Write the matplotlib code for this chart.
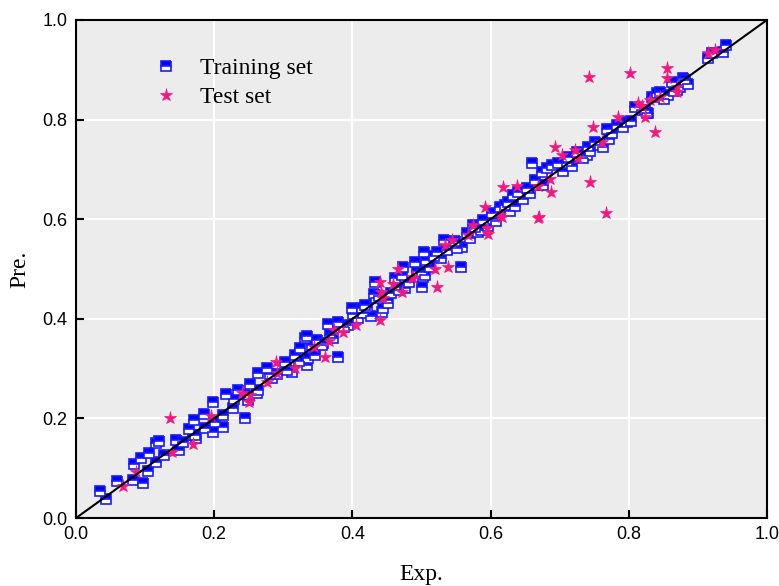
import matplotlib
matplotlib.use('Agg')
import matplotlib.pyplot as plt

# training set (Exp., Pre.)
train_exp = [0.034, 0.044, 0.059, 0.082, 0.097, 0.084, 0.094, 0.104, 0.106, 0.116,
             0.120, 0.116, 0.127, 0.149, 0.145, 0.155, 0.164, 0.171, 0.169, 0.174,
             0.172, 0.187, 0.198, 0.185, 0.198, 0.201, 0.213, 0.213, 0.217, 0.227,
             0.229, 0.234, 0.245, 0.250, 0.252, 0.262, 0.264, 0.276, 0.284, 0.291,
             0.302, 0.312, 0.317, 0.324, 0.331, 0.334, 0.336, 0.341, 0.334, 0.249,
             0.349, 0.346, 0.365, 0.368, 0.379, 0.379, 0.394, 0.399, 0.401, 0.414,
             0.415, 0.421, 0.427, 0.431, 0.434, 0.443, 0.444, 0.450, 0.452, 0.462,
             0.465, 0.472, 0.476, 0.473, 0.491, 0.493, 0.501, 0.504, 0.502, 0.433,
             0.506, 0.500, 0.522, 0.533, 0.537, 0.546, 0.557, 0.559, 0.566, 0.570,
             0.575, 0.582, 0.589, 0.602, 0.603, 0.614, 0.621, 0.625, 0.632, 0.640,
             0.647, 0.653, 0.657, 0.664, 0.669, 0.660, 0.505, 0.537, 0.674, 0.681,
             0.689, 0.698, 0.711, 0.712, 0.725, 0.739, 0.741, 0.751, 0.758, 0.763,
             0.768, 0.776, 0.783, 0.797, 0.809, 0.819, 0.828, 0.834, 0.841, 0.823,
             0.845, 0.857, 0.862, 0.870, 0.874, 0.878, 0.881, 0.915, 0.920, 0.936,
             0.941, 0.826, 0.358, 0.388, 0.408, 0.438, 0.456, 0.482, 0.512, 0.528,
             0.548, 0.586, 0.596, 0.635, 0.676, 0.705, 0.733, 0.792, 0.803, 0.851,
             0.264, 0.281, 0.306, 0.322, 0.356, 0.372, 0.418, 0.468, 0.518, 0.552,
             0.578, 0.608, 0.628, 0.718, 0.744, 0.771, 0.866, 0.885]
train_pre = [0.055, 0.038, 0.074, 0.076, 0.070, 0.108, 0.120, 0.095, 0.130, 0.150,
             0.155, 0.112, 0.127, 0.137, 0.157, 0.153, 0.179, 0.197, 0.167, 0.160,
             0.167, 0.180, 0.173, 0.209, 0.233, 0.192, 0.183, 0.207, 0.249, 0.221,
             0.239, 0.257, 0.200, 0.247, 0.269, 0.251, 0.291, 0.301, 0.281, 0.289,
             0.313, 0.293, 0.327, 0.341, 0.362, 0.307, 0.321, 0.347, 0.365, 0.237,
             0.357, 0.327, 0.390, 0.367, 0.323, 0.393, 0.387, 0.421, 0.410, 0.421,
             0.411, 0.424, 0.406, 0.450, 0.442, 0.414, 0.421, 0.437, 0.431, 0.482,
             0.464, 0.488, 0.462, 0.504, 0.514, 0.496, 0.464, 0.534, 0.484, 0.474,
             0.518, 0.494, 0.534, 0.558, 0.540, 0.548, 0.504, 0.544, 0.572, 0.562,
             0.588, 0.574, 0.598, 0.612, 0.600, 0.624, 0.628, 0.635, 0.649, 0.655,
             0.641, 0.663, 0.653, 0.679, 0.669, 0.713, 0.488, 0.538, 0.695, 0.703,
             0.709, 0.713, 0.713, 0.725, 0.735, 0.729, 0.745, 0.755, 0.749, 0.745,
             0.781, 0.773, 0.789, 0.795, 0.825, 0.819, 0.813, 0.845, 0.853, 0.819,
             0.855, 0.849, 0.875, 0.859, 0.865, 0.884, 0.880, 0.924, 0.934, 0.936,
             0.950, 0.813, 0.352, 0.384, 0.401, 0.446, 0.452, 0.474, 0.504, 0.522,
             0.556, 0.578, 0.587, 0.626, 0.668, 0.696, 0.722, 0.785, 0.798, 0.842,
             0.257, 0.290, 0.297, 0.316, 0.347, 0.362, 0.428, 0.457, 0.526, 0.543,
             0.584, 0.597, 0.617, 0.706, 0.736, 0.760, 0.858, 0.872]

# test set (Exp., Pre.)
test_exp = [0.136, 0.139, 0.169, 0.068, 0.087, 0.195, 0.240, 0.252, 0.250, 0.276,
            0.289, 0.291, 0.317, 0.344, 0.360, 0.366, 0.373, 0.386, 0.405, 0.440,
            0.440, 0.441, 0.444, 0.459, 0.472, 0.466, 0.486, 0.488, 0.520, 0.538,
            0.522, 0.534, 0.544, 0.567, 0.575, 0.592, 0.595, 0.596, 0.614, 0.616,
            0.618, 0.638, 0.669, 0.669, 0.686, 0.693, 0.703, 0.722, 0.726, 0.748,
            0.761, 0.744, 0.687, 0.670, 0.767, 0.784, 0.823, 0.813, 0.838, 0.742,
            0.802, 0.819, 0.831, 0.845, 0.855, 0.855, 0.870, 0.870, 0.915, 0.925]
test_pre = [0.200, 0.133, 0.149, 0.064, 0.092, 0.205, 0.251, 0.247, 0.233, 0.273,
            0.313, 0.291, 0.301, 0.343, 0.323, 0.355, 0.377, 0.373, 0.387, 0.398,
            0.474, 0.454, 0.442, 0.470, 0.454, 0.500, 0.484, 0.482, 0.500, 0.504,
            0.464, 0.548, 0.558, 0.568, 0.588, 0.625, 0.582, 0.570, 0.608, 0.604,
            0.665, 0.667, 0.667, 0.602, 0.681, 0.745, 0.729, 0.739, 0.723, 0.785,
            0.755, 0.675, 0.655, 0.604, 0.612, 0.805, 0.805, 0.833, 0.775, 0.886,
            0.894, 0.827, 0.839, 0.845, 0.904, 0.884, 0.865, 0.855, 0.934, 0.940]

serif = ['Liberation Serif', 'DejaVu Serif']
narrow = ['Liberation Sans Narrow', 'Liberation Sans', 'DejaVu Sans']

fig = plt.figure(figsize=(7.79, 5.86), dpi=100)
ax = fig.add_axes([0.0976, 0.116, 0.887, 0.850])
ax.set_facecolor('#ececec')

ax.plot(train_exp, train_pre, linestyle='none', marker='s', markersize=6.5,
        fillstyle='top', markerfacecolor='#0000ff', markerfacecoloralt='white',
        markeredgecolor='#1a1aff', markeredgewidth=1.2, label='Training set', zorder=3)
ax.plot(test_exp, test_pre, linestyle='none', marker='*', markersize=9.5,
        color='#f5167f', markeredgewidth=0.5, label='Test set', zorder=4)
ax.plot([0, 1], [0, 1], color='black', linewidth=1.5, zorder=5)

ax.set_xlim(0, 1)
ax.set_ylim(0, 1)
ax.set_xticks([0.0, 0.2, 0.4, 0.6, 0.8, 1.0])
ax.set_yticks([0.0, 0.2, 0.4, 0.6, 0.8, 1.0])
ax.grid(True, color='white', linewidth=1.5, zorder=0)
ax.set_axisbelow(True)
ax.tick_params(direction='in', length=6, width=1.5, labelsize=13, pad=6)
for lab in ax.get_xticklabels() + ax.get_yticklabels():
    lab.set_family(narrow)
for s in ax.spines.values():
    s.set_linewidth(1.5)

ax.set_xlabel('Exp.', family=serif, fontsize=17, labelpad=15)
ax.set_ylabel('Pre.', family=serif, fontsize=17, labelpad=9)

leg = ax.legend(loc='upper left', bbox_to_anchor=(0.081, 0.957), frameon=False,
                prop={'family': serif, 'size': 17}, handletextpad=0.7,
                borderpad=0.2, labelspacing=0.3, handlelength=1.5)

fig.savefig('out.png', dpi=100)
